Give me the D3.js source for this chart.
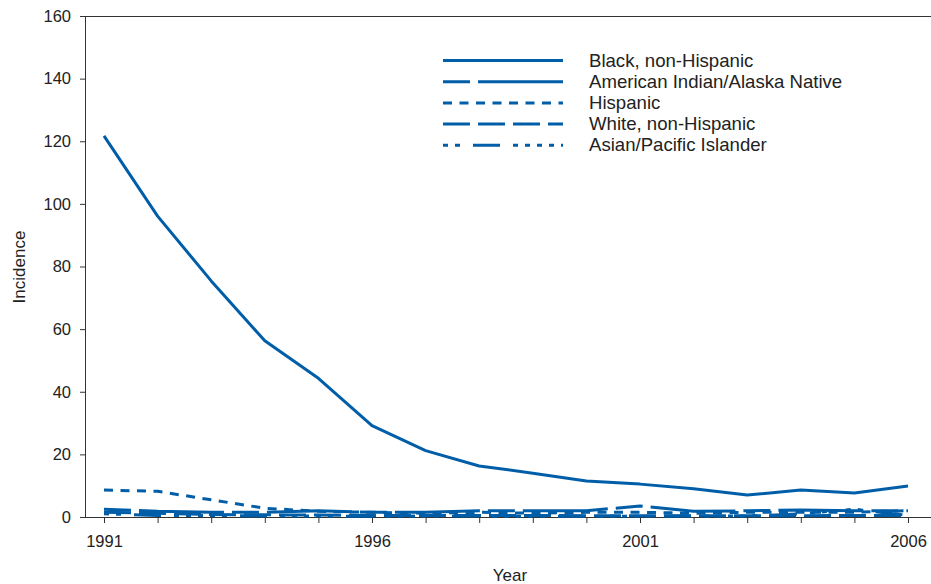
<!DOCTYPE html>
<html><head><meta charset="utf-8">
<script src="https://cdn.jsdelivr.net/npm/d3@7"></script>
<style>body{margin:0;background:#fff}svg{display:block}text{font-family:"Liberation Sans",Arial,sans-serif;fill:#222}</style>
</head><body><svg id="c" width="931" height="584"></svg>
<script>
const years = [1991,1992,1993,1994,1995,1996,1997,1998,1999,2000,2001,2002,2003,2004,2005,2006];
const blackNH = [121.7,96.1,75.4,56.3,44.3,29.2,21.2,16.3,14.0,11.5,10.5,9.0,7.0,8.6,7.7,9.9];
const aian    = [2.5,1.8,1.5,1.5,2.0,1.5,1.5,2.0,2.0,2.0,3.5,1.8,2.0,2.2,2.0,2.0];
const hispanic= [8.6,8.2,5.5,2.8,1.8,1.5,1.2,1.5,1.2,1.5,1.5,1.2,1.5,1.5,1.5,2.0];
const whiteNH = [1.5,1.2,0.8,0.7,0.6,0.5,0.5,0.5,0.5,0.4,0.4,0.4,0.4,0.4,0.5,0.5];
const api     = [1.0,0.5,0.5,0.3,0.3,0.2,0.3,0.3,0.2,0.2,0.2,0.3,0.3,1.0,2.5,0.5];
const seriesNames = ["Black, non-Hispanic","American Indian/Alaska Native","Hispanic","White, non-Hispanic","Asian/Pacific Islander"];
const seriesValues = [blackNH, aian, hispanic, whiteNH, api];
const dashes = [null, "27,8,85,8", "9,7.5", "27,8", "5,7,5,13,27,13,5,7,5,7,5,7"];
const yTicks = [0,20,40,60,80,100,120,140,160];
const xTickLabels = [1991,1996,2001,2006];

const svg = d3.select("#c");
const color = "#005ea8";
const x = d3.scaleLinear().domain([1991,2006]).range([104,908]);
const y = d3.scaleLinear().domain([0,160]).range([517,16]);

// axes
const yAx = svg.append("g").attr("transform","translate(85,0)")
  .call(d3.axisLeft(y).tickValues(yTicks).tickSize(5).tickPadding(9).tickSizeOuter(0));
const xAx = svg.append("g").attr("transform","translate(0,517)")
  .call(d3.axisBottom(x).tickValues(years).tickSize(6).tickPadding(12).tickSizeOuter(0)
    .tickFormat(d => xTickLabels.includes(d) ? d : ""));
[yAx,xAx].forEach(g=>{
  g.selectAll("text").attr("font-size",16.5).attr("font-family","Liberation Sans, Arial, sans-serif").attr("fill","#222");
  g.selectAll("line").attr("stroke","#333");
  g.select(".domain").attr("stroke","#333");
});
xAx.select(".domain").remove();
svg.append("line").attr("x1",80).attr("x2",931).attr("y1",517.5).attr("y2",517.5).attr("stroke","#333");
svg.append("line").attr("x1",80).attr("x2",931).attr("y1",16.5).attr("y2",16.5).attr("stroke","#333");

// labels
svg.append("text").attr("x",510).attr("y",581).attr("text-anchor","middle").attr("font-size",17).text("Year");
svg.append("text").attr("transform","translate(25,267) rotate(-90)").attr("text-anchor","middle").attr("font-size",17).text("Incidence");

// lines
const line = d3.line().x((d,i)=>x(years[i])).y(d=>y(d));
seriesValues.forEach((vals,k)=>{
  const p = svg.append("path").datum(vals).attr("d",line).attr("fill","none")
    .attr("stroke",color).attr("stroke-width",3).attr("stroke-linejoin","round");
  if (dashes[k]) p.attr("stroke-dasharray",dashes[k]);
});

// legend
const lg = svg.append("g");
seriesNames.forEach((n,k)=>{
  const yy = 60.5 + k*21.2;
  const l = lg.append("line").attr("x1",443).attr("x2",563).attr("y1",yy).attr("y2",yy)
    .attr("stroke",color).attr("stroke-width",3);
  if (dashes[k]) l.attr("stroke-dasharray",dashes[k]);
  lg.append("text").attr("x",589).attr("y",yy+6).attr("font-size",18.6).text(n);
});
</script></body></html>
